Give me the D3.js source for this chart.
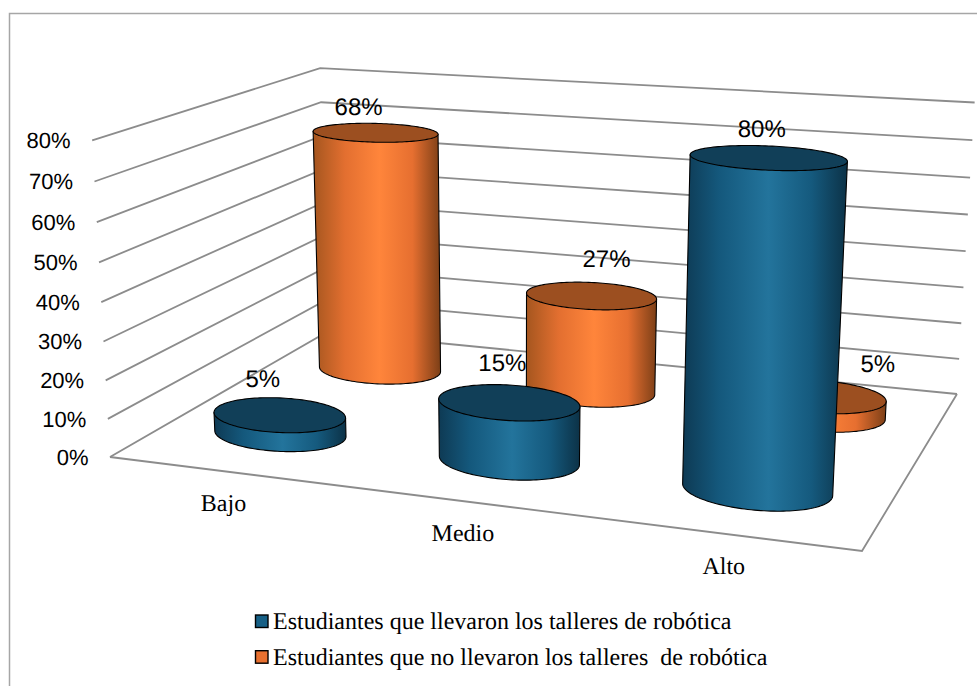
<!DOCTYPE html>
<html>
<head>
<meta charset="utf-8">
<script src="https://cdn.jsdelivr.net/npm/d3@7"></script>
<style>
html,body{margin:0;padding:0;background:#fff;overflow:hidden}
svg{display:block;text-rendering:geometricPrecision}
text{white-space:pre}
.sans{font-family:"Liberation Sans",Arial,sans-serif;font-size:22px;fill:#000}
.big{font-size:24px}
.serif{font-family:"Liberation Serif","Times New Roman",serif;font-size:24px;fill:#000}
</style>
</head>
<body>
<svg id="c" width="977" height="686"></svg>
<script>
// ---- data ----
const categories = ["Bajo", "Medio", "Alto"];
const seriesNames = ["Estudiantes que llevaron los talleres de robótica",
                     "Estudiantes que no llevaron los talleres  de robótica"];
const llevaron = [5, 15, 80];
const noLlevaron = [68, 27, 5];
const ticks = [0, 10, 20, 30, 40, 50, 60, 70, 80];

// ---- layout ----
const W = 977, H = 686;
const floorCorners = {A:[110,457], D:[862,551], C:[957,394], B:[327,332]};
const vert = {p:-21.7, q:-322.5, r:-0.042};
const radW = 0.125;
const radU = u => 0.1 - 0.004*u;
const tiltAt = u => 0.3 + 0.45*u;
const labelNudge = [
  [[-17,-36],[-7,-39],[-7,-29]],
  [[-17,-25],[15,-36],[60,-32]]
];
const palette = [
  {cap:"#113f58", swatch:"#176086", stops:[["0%","#0e3a54"],["22%","#14587c"],["52%","#23749c"],["78%","#155a7e"],["100%","#0c3247"]]},
  {cap:"#9c4f20", swatch:"#e8702f", stops:[["0%","#a5561f"],["25%","#e36f30"],["52%","#ff853b"],["78%","#e66f30"],["100%","#7c3f17"]]}
];

// homography of the floor plus a vertical term
const {A,B,C,D} = floorCorners;
const dx1=D[0]-C[0], dx2=B[0]-C[0], sx=A[0]-D[0]+C[0]-B[0];
const dy1=D[1]-C[1], dy2=B[1]-C[1], sy=A[1]-D[1]+C[1]-B[1];
const det=dx1*dy2-dx2*dy1;
const g=(sx*dy2-dx2*sy)/det, h=(dx1*sy-sx*dy1)/det;
const a=D[0]-A[0]+g*D[0], b=B[0]-A[0]+h*B[0], c0=A[0];
const d=D[1]-A[1]+g*D[1], e=B[1]-A[1]+h*B[1], f=A[1];
function P(u,w,z){
  const k=g*u+h*w+1+vert.r*z;
  return [(a*u+b*w+c0+vert.p*z)/k, (d*u+e*w+f+vert.q*z)/k];
}

const zScale = d3.scaleLinear().domain([0,80]).range([0,1]);
const uScale = d3.scalePoint().domain(categories).range([0,1]).padding(0.5);
const wScale = d3.scalePoint().domain(seriesNames).range([0,1]).padding(0.5);

const svg = d3.select("#c");
const defs = svg.append("defs");
const line = d3.line();

// frame
svg.append("path").attr("d",`M9.5,${H+5}V13.5H${W+5}`).attr("fill","none")
   .attr("stroke","#a6a6a6").attr("stroke-width",1.5);

// gridlines
svg.append("g").selectAll("path").data(ticks).join("path")
  .attr("d",t=>{const z=zScale(t);return line([P(0,0,z),P(0,1,z),P(1,1,z)]);})
  .attr("fill","none").attr("stroke","#8c8c8c").attr("stroke-width",1.8);
// floor front edges
svg.append("path").attr("d",line([P(0,0,0),P(1,0,0),P(1,1,0)]))
  .attr("fill","none").attr("stroke","#8c8c8c").attr("stroke-width",1.8);

// axis labels
svg.append("g").selectAll("text").data(ticks).join("text").attr("class","sans")
  .attr("text-anchor","end").attr("dominant-baseline","central")
  .attr("x",t=>P(0,0,zScale(t))[0]-21.5)
  .attr("y",t=>P(0,0,zScale(t))[1]+0.5)
  .text(t=>t+"%");

svg.append("g").selectAll("text").data(categories).join("text").attr("class","serif")
  .attr("text-anchor","middle").attr("dominant-baseline","central")
  .attr("x",k=>P(uScale(k),0,0)[0]+1)
  .attr("y",k=>P(uScale(k),0,0)[1]+33)
  .text(k=>k);

// gradients
palette.forEach((p,i)=>{
  const gr=defs.append("linearGradient").attr("id","grad"+i)
    .attr("x1","0").attr("x2","1").attr("y1","0").attr("y2","0");
  p.stops.forEach(s=>gr.append("stop").attr("offset",s[0]).attr("stop-color",s[1]));
});

function disc(u,w,z){
  const ctr=P(u,w,z), r=P(u+radU(u),w,z), l=P(u-radU(u),w,z);
  const mx=(r[0]-l[0])/2, my=(r[1]-l[1])/2*tiltAt(u);
  const ry=Math.abs(P(u,w+radW,z)[1]-P(u,w-radW,z)[1])/2;
  return t=>[ctr[0]+mx*Math.cos(t), ctr[1]+my*Math.cos(t)+ry*Math.sin(t)];
}
const steps = d3.range(0,73).map(i=>i*Math.PI/72);   // 0..PI

const allSeries=[noLlevaron,llevaron];
const seriesIndex=[1,0];
allSeries.forEach((vals,si)=>{
  const idx=seriesIndex[si];
  const w=wScale(seriesNames[idx]);
  const grp=svg.append("g");
  vals.forEach((v,ci)=>{
    const u=uScale(categories[ci]);
    const top=disc(u,w,zScale(v)), bot=disc(u,w,0);
    const side=[top(Math.PI)].concat(steps.slice().reverse().map(bot),[top(0)]);
    grp.append("path").attr("d",line(side)+"Z")
      .attr("fill",`url(#grad${idx})`).attr("stroke","#000").attr("stroke-width",1.1).attr("stroke-linejoin","round");
    const cap=steps.map(t=>top(t)).concat(steps.map(t=>top(t+Math.PI)));
    grp.append("path").attr("d",line(cap)+"Z")
      .attr("fill",palette[idx].cap).attr("stroke","#000").attr("stroke-width",1.1);
  });
});

// data labels
[llevaron,noLlevaron].forEach((vals,idx)=>{
  const w=wScale(seriesNames[idx]);
  svg.append("g").selectAll("text").data(vals).join("text").attr("class","sans big")
    .attr("text-anchor","middle").attr("dominant-baseline","central")
    .attr("x",(v,i)=>P(uScale(categories[i]),w,zScale(v))[0]+labelNudge[idx][i][0])
    .attr("y",(v,i)=>P(uScale(categories[i]),w,zScale(v))[1]+labelNudge[idx][i][1])
    .text(v=>v+"%");
});

// legend
const leg=svg.append("g").selectAll("g").data(seriesNames).join("g")
  .attr("transform",(s,i)=>`translate(255.5,${615+i*35.7})`);
leg.append("rect").attr("width",12.5).attr("height",12.5)
  .attr("fill",(s,i)=>palette[i].swatch).attr("stroke","#000").attr("stroke-width",1.4);
leg.append("text").attr("class","serif").attr("x",17.5).attr("y",14).text(s=>s);
</script>
</body>
</html>
